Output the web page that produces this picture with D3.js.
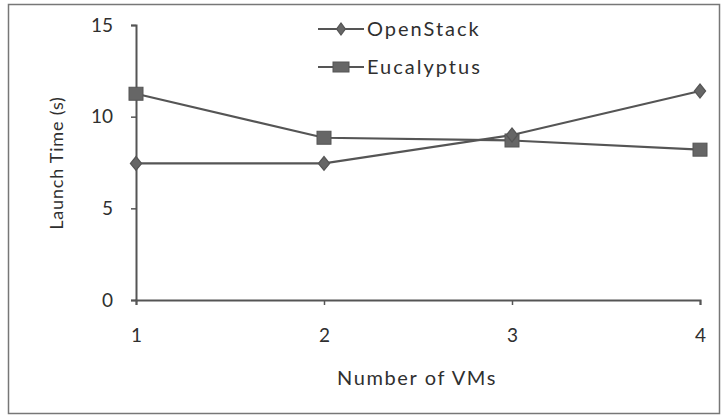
<!DOCTYPE html>
<html>
<head>
<meta charset="utf-8">
<script src="https://cdn.jsdelivr.net/npm/d3@7"></script>
<style>
  body { margin: 0; background: #fff; }
  text { font-family: Lato, "Open Sans", sans-serif; fill: #2f2f2f; }
</style>
</head>
<body>
<div id="visualization"></div>
<script>
let vms = [1, 2, 3, 4];
let openstack = [7.45, 7.45, 9.0, 11.4];
let eucalyptus = [11.25, 8.85, 8.7, 8.2];
let yTicks = [0, 5, 10, 15];
let seriesNames = ["OpenStack", "Eucalyptus"];

let width = 722, height = 417;
let lineColor = "#555";

let x = d3.scaleLinear().domain([1, 4]).range([136, 700]);
let y = d3.scaleLinear().domain([0, 15]).range([300, 25]);

let svg = d3.select("#visualization").append("svg")
  .attr("width", width)
  .attr("height", height);

// outer frame
svg.append("rect")
  .attr("x", 8.5).attr("y", 4.5)
  .attr("width", 711).attr("height", 409)
  .attr("fill", "none")
  .attr("stroke", "#777")
  .attr("stroke-width", 1.5);

// axes
let yAxis = svg.append("g")
  .attr("transform", "translate(" + x(1) + ",0)")
  .call(d3.axisLeft(y).tickValues(yTicks).tickSize(5).tickPadding(18));

let xAxis = svg.append("g")
  .attr("transform", "translate(0," + y(0) + ")")
  .call(d3.axisBottom(x).tickValues(vms).tickFormat(d3.format("d")).tickSize(5).tickPadding(24));

[yAxis, xAxis].forEach(function(ax) {
  ax.select(".domain").attr("stroke", lineColor).attr("stroke-width", 2);
  ax.selectAll(".tick line").attr("stroke", lineColor).attr("stroke-width", 1.5);
  ax.selectAll(".tick text")
    .attr("font-size", 19)
    .attr("font-family", "Lato, sans-serif")
    .attr("fill", "#444");
});

// axis titles
svg.append("text")
  .attr("transform", "translate(63,163) rotate(-90)")
  .attr("text-anchor", "middle")
  .attr("font-size", 18)
  .attr("letter-spacing", 0.8)
  .text("Launch Time (s)");

svg.append("text")
  .attr("x", 417).attr("y", 385)
  .attr("text-anchor", "middle")
  .attr("font-size", 20)
  .attr("letter-spacing", 1.6)
  .text("Number of VMs");

// series
let line = d3.line()
  .x(function(d, i) { return x(vms[i]); })
  .y(function(d) { return y(d); });

let allSeries = [openstack, eucalyptus];

svg.selectAll("path.series")
  .data(allSeries)
  .enter().append("path")
  .attr("class", "series")
  .attr("d", line)
  .attr("fill", "none")
  .attr("stroke", lineColor)
  .attr("stroke-width", 2.2);

// eucalyptus squares
svg.selectAll("rect.sq")
  .data(eucalyptus)
  .enter().append("rect")
  .attr("class", "sq")
  .attr("x", function(d, i) { return x(vms[i]) - 7; })
  .attr("y", function(d) { return y(d) - 6.5; })
  .attr("width", 14).attr("height", 13)
  .attr("fill", "#666").attr("stroke", "#555");

// openstack diamonds
let diamond = d3.symbol().type(d3.symbolDiamond).size(55);
svg.selectAll("path.dm")
  .data(openstack)
  .enter().append("path")
  .attr("class", "dm")
  .attr("d", diamond)
  .attr("transform", function(d, i) { return "translate(" + x(vms[i]) + "," + y(d) + ") scale(1.4,1)"; })
  .attr("fill", "#666").attr("stroke", "#555");

// legend
let legend = svg.selectAll("g.legend")
  .data(seriesNames)
  .enter().append("g")
  .attr("class", "legend")
  .attr("transform", function(d, i) { return "translate(318," + (29 + i * 38) + ")"; });

legend.append("line")
  .attr("x1", 0).attr("x2", 46)
  .attr("stroke", lineColor).attr("stroke-width", 2.2);

legend.filter(function(d, i) { return i === 0; }).append("path")
  .attr("d", d3.symbol().type(d3.symbolDiamond).size(40))
  .attr("transform", "translate(23,0) scale(1.3,1)")
  .attr("fill", "#666").attr("stroke", "#555");

legend.filter(function(d, i) { return i === 1; }).append("rect")
  .attr("x", 15).attr("y", -5)
  .attr("width", 16).attr("height", 10)
  .attr("fill", "#666").attr("stroke", "#555");

legend.append("text")
  .attr("x", 49).attr("y", 0)
  .attr("dy", "0.35em")
  .attr("font-size", 20)
  .attr("letter-spacing", 2)
  .text(function(d) { return d; });
</script>
</body>
</html>
